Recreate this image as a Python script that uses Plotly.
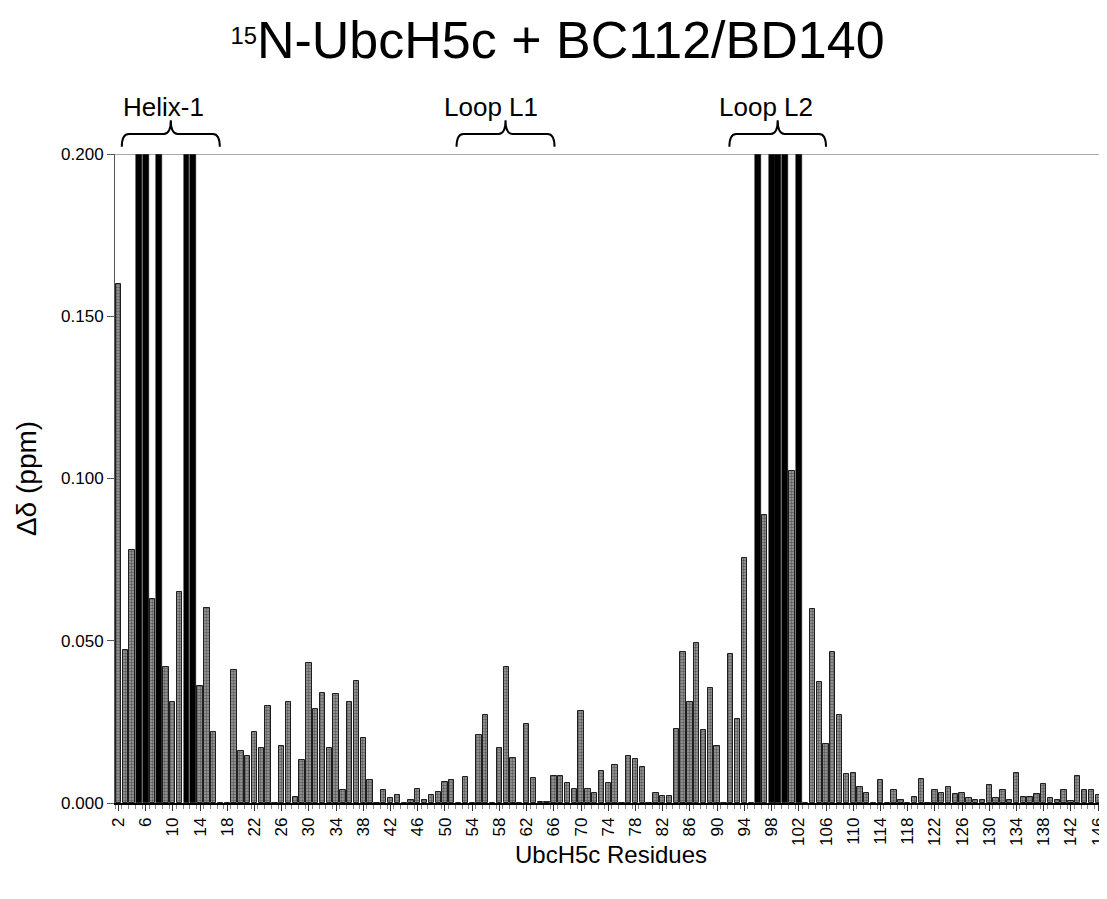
import plotly.graph_objects as go

# Residue numbers and chemical shift perturbations (ppm)
residues = list(range(2, 147))
delta = [
    0.160, 0.047, 0.078, 0.200, 0.200, 0.063, 0.200, 0.042, 0.031,      # 2-10
    0.065, 0.200, 0.200, 0.036, 0.060, 0.022, 0.000, 0.000, 0.041, 0.016,  # 11-20
    0.0145, 0.022, 0.017, 0.030, 0.000, 0.0176, 0.031, 0.002, 0.0134, 0.043,  # 21-30
    0.029, 0.034, 0.017, 0.0335, 0.004, 0.031, 0.0376, 0.020, 0.007, 0.000,  # 31-40
    0.004, 0.0015, 0.0025, 0.000, 0.001, 0.0042, 0.001, 0.0025, 0.0034, 0.0064,  # 41-50
    0.0071, 0.000, 0.0081, 0.000, 0.021, 0.027, 0.000, 0.017, 0.042, 0.014,  # 51-60
    0.000, 0.0245, 0.0076, 0.0004, 0.0004, 0.0083, 0.0083, 0.0063, 0.0042, 0.0285,  # 61-70
    0.0042, 0.0032, 0.0099, 0.0061, 0.0116, 0.000, 0.0145, 0.0137, 0.011, 0.000,  # 71-80
    0.0032, 0.0021, 0.0021, 0.0227, 0.0466, 0.031, 0.0494, 0.0225, 0.0355, 0.0176,  # 81-90
    0.000, 0.0459, 0.0259, 0.0754, 0.000, 0.200, 0.0887, 0.200, 0.200, 0.200,  # 91-100
    0.1024, 0.200, 0.000, 0.0598, 0.0372, 0.0182, 0.0466, 0.0271, 0.0088, 0.0093,  # 101-110
    0.005, 0.003, 0.000, 0.0071, 0.000, 0.004, 0.001, 0.000, 0.002, 0.0073,  # 111-120
    0.000, 0.004, 0.003, 0.005, 0.0028, 0.003, 0.0015, 0.001, 0.001, 0.0055,  # 121-130
    0.0015, 0.004, 0.001, 0.0094, 0.0017, 0.002, 0.0028, 0.006, 0.0015, 0.001,  # 131-140
    0.004, 0.0005, 0.0083, 0.004, 0.004, 0.0025,  # 141-146
]
# Residues whose perturbation exceeds the 0.200 ppm axis limit (drawn black)
offscale = [5, 6, 8, 12, 13, 96, 98, 99, 100, 102]

tick_residues = list(range(2, 147, 4))
y_ticks = [0.0, 0.05, 0.10, 0.15, 0.20]

regions = ["Helix-1", "Loop L1", "Loop L2"]
region_start = [2.5, 51.7, 91.8]
region_end = [16.9, 66.1, 106.0]
region_label_x = [8.7, 56.8, 97.2]

title_text = '<span style="font-size:34px"><sup>15</sup></span>N-UbcH5c + BC112/BD140'

FONT = "Liberation Sans, Arial, sans-serif"

gx = [r for r, d in zip(residues, delta) if r not in offscale]
gy = [d for r, d in zip(residues, delta) if r not in offscale]
bx = [r for r, d in zip(residues, delta) if r in offscale]
by = [d for r, d in zip(residues, delta) if r in offscale]

fig = go.Figure()
fig.add_trace(go.Bar(
    x=gx, y=gy, width=0.78,
    marker=dict(color="#9e9e9e",
                line=dict(color="#1e1e1e", width=1),
                pattern=dict(shape=".", fgcolor="#1a1a1a", size=3, solidity=0.5)),
    showlegend=False,
))
fig.add_trace(go.Bar(
    x=bx, y=by, width=0.86,
    marker=dict(color="#000000", line=dict(color="#000000", width=0.5)),
    showlegend=False,
))

shapes = [dict(type="line", xref="paper", yref="y", x0=0, x1=1, y0=0.2, y1=0.2,
               line=dict(color="#555555", width=1))]
annotations = []
for name, a, b, lx in zip(regions, region_start, region_end, region_label_x):
    m = (a + b) / 2
    c = (b - a) / 14.0
    y0, ym, yt = 1.011, 1.031, 1.052
    path = (f"M {a},{y0} Q {a},{ym} {a + c},{ym} L {m - c},{ym} "
            f"Q {m},{ym} {m},{yt} Q {m},{ym} {m + c},{ym} L {b - c},{ym} "
            f"Q {b},{ym} {b},{y0}")
    shapes.append(dict(type="path", xref="x", yref="paper", path=path,
                       line=dict(color="#000000", width=2)))
    annotations.append(dict(x=lx, y=1.046, xref="x", yref="paper", text=name,
                            showarrow=False, yanchor="bottom",
                            font=dict(family=FONT, size=26, color="#000000")))

# The page body adds an 8 px offset; size the figure so no scrollbars appear.
H = 868
fig.update_layout(
    width=1099, height=H,
    paper_bgcolor="white", plot_bgcolor="white",
    margin=dict(l=107, r=0, t=146, b=H - 795, autoexpand=False),
    bargap=0,
    title=dict(text=title_text, x=0.5, xref="container", xanchor="center",
               y=1 - 32 / H, yref="container", yanchor="middle",
               font=dict(family=FONT, size=52, color="#000000")),
    font=dict(family=FONT, color="#000000"),
    shapes=shapes, annotations=annotations,
)
fig.update_xaxes(
    range=[1.5, 147.3], tickmode="array", tickvals=tick_residues,
    ticktext=[str(t) for t in tick_residues], tickangle=-90,
    tickfont=dict(family=FONT, size=17), ticks="outside", ticklen=6,
    tickcolor="#333333", automargin=False, ticklabeloverflow="allow",
    minor=dict(dtick=1, tick0=1.5, ticks="outside", ticklen=4, tickcolor="#888888"),
    showline=True, linecolor="#000000", linewidth=1.5, showgrid=False, zeroline=False,
    title=dict(text="UbcH5c Residues", font=dict(family=FONT, size=24), standoff=1),
)
fig.update_yaxes(
    range=[0, 0.2], tickmode="array", tickvals=y_ticks, tickformat=".3f",
    tickfont=dict(family=FONT, size=17), ticks="outside", ticklen=7,
    tickcolor="#555555", automargin=False,
    showline=True, linecolor="#555555", linewidth=1, showgrid=False, zeroline=False,
    title=dict(text="Δδ (ppm)", font=dict(family=FONT, size=28), standoff=16),
)

fig.write_html("out.html")
